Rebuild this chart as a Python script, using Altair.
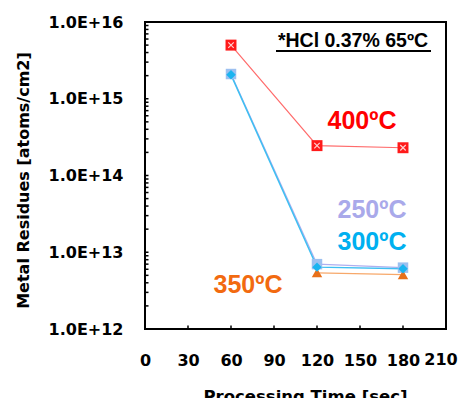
import altair as alt
import pandas as pd

times = [60, 120, 180]
res_400 = [5.0e15, 2.45e14, 2.3e14]
res_250 = [2.1e15, 7.0e12, 6.3e12]
res_300 = [2.05e15, 6.4e12, 6.1e12]
res_350_times = [120, 180]
res_350 = [5.4e12, 5.1e12]

x_ticks = [0, 30, 60, 90, 120, 150, 180, 210]
y_ticks = [1e12, 1e13, 1e14, 1e15, 1e16]
y_minor = [float(m) * 10.0 ** e for e in range(12, 16) for m in range(2, 10)] + y_ticks[1:-1]

FONT = "DejaVu Sans"

d400 = pd.DataFrame({"t": times, "v": res_400})
d250 = pd.DataFrame({"t": times, "v": res_250})
d300 = pd.DataFrame({"t": times, "v": res_300})
d350 = pd.DataFrame({"t": res_350_times, "v": res_350})
dyt = pd.DataFrame({"v": y_minor, "t": [0.0] * len(y_minor)})
dxt = pd.DataFrame({"t": [float(t) for t in x_ticks[1:-1]], "v": [1e12] * 6})
dlast = pd.DataFrame({"t": x_ticks[-1:]})

xscale = alt.Scale(domain=[0, 210], nice=False, zero=False)
yscale = alt.Scale(type="log", domain=[1e12, 1e16], nice=False)

xaxis = alt.Axis(values=x_ticks[:-1], ticks=False, domain=False, grid=False,
                 labelFont=FONT, labelFontWeight="bold", labelFontSize=16,
                 labelColor="black", labelPadding=23, labelFlush=False,
                 title="Processing Time [sec]", titleFont=FONT, titleFontWeight="bold",
                 titleFontSize=16.5, titleColor="black", titleBaseline="top",
                 titleY=59, titleX=160)
yaxis = alt.Axis(values=y_ticks, ticks=False, domain=False, grid=False,
                 labelExpr="format(datum.value / pow(10, floor(log(datum.value)/LN10 + 0.001)), '.1f') + 'E+' + floor(log(datum.value)/LN10 + 0.001)",
                 labelFont=FONT, labelFontWeight="bold", labelFontSize=16,
                 labelColor="black", labelPadding=22, labelFlush=False,
                 title="Metal Residues [atoms/cm2]", titleFont=FONT, titleFontWeight="bold",
                 titleFontSize=16, titleColor="black", titleAngle=-90,
                 titleBaseline="middle", titleAlign="center", titleX=-122, titleY=158)

X = alt.X("t:Q", scale=xscale, axis=xaxis)
Y = alt.Y("v:Q", scale=yscale, axis=yaxis)


def line(df, color, width=1.2):
    return alt.Chart(df).mark_line(color=color, strokeWidth=width).encode(x=X, y=Y)


def pts(df, shape, color, size, **kw):
    return alt.Chart(df).mark_point(shape=shape, filled=True, color=color, size=size,
                                    opacity=1, **kw).encode(x=X, y=Y)


xcross = "M-1,-1L1,1M1,-1L-1,1"

# inner ticks drawn as short horizontal / vertical paths through the scales
inner_y_ticks = alt.Chart(dyt).mark_point(
    shape="M0,0L1,0", filled=False, stroke="#000000", strokeWidth=1.5,
    size=49, opacity=1
).encode(x=X, y=Y)
inner_x_ticks = alt.Chart(dxt).mark_point(
    shape="M0,0L0,-1", filled=False, stroke="#000000", strokeWidth=1.5,
    size=49, opacity=1
).encode(x=X, y=Y)
last_label = alt.Chart(dlast).mark_text(
    font=FONT, fontWeight="bold", fontSize=16, color="black", align="center",
    baseline="top", dx=-5, dy=0
).encode(x=X, y=alt.value(330), text=alt.Text("t:Q"))

layers = [
    line(d400, "#FF6B6B"),
    line(d250, "#AFAFEF"),
    line(d350, "#F7A86A"),
    line(d300, "#3FBFF2", 1.5),
    pts(d400, "square", "#FF1A1A", 120),
    alt.Chart(d400).mark_point(shape=xcross, filled=False, stroke="#FFD0D0",
                               strokeWidth=1.2, size=30, opacity=1).encode(x=X, y=Y),
    pts(d250, "square", "#9CC0F0", 110),
    pts(d350, "triangle-up", "#E8701A", 110),
    pts(d300, "diamond", "#1AB4F0", 90),
    inner_y_ticks,
    inner_x_ticks,
    last_label,
]

def label(text, color, x, y, size=25):
    return alt.Chart(pd.DataFrame({"a": [0]})).mark_text(
        text=text, color=color, font="Liberation Sans", fontWeight="bold",
        fontSize=size, align="center", baseline="middle"
    ).encode(x=alt.value(x), y=alt.value(y))

labels = [
    label("400ºC", "#FF0000", 217, 99),
    label("250ºC", "#A9A9EA", 227, 188),
    label("300ºC", "#00B0F0", 227, 220),
    label("350ºC", "#F26A10", 103, 263),
    label("*HCl 0.37% 65ºC", "#000000", 208, 19, 19.5),
    alt.Chart(pd.DataFrame({"a": [0]})).mark_rule(color="black", strokeWidth=2).encode(
        x=alt.value(131), x2=alt.value(286), y=alt.value(29)),
]

chart = alt.layer(*layers, *labels).properties(
    width=301, height=307,
    autosize=alt.AutoSizeParams(type="none"),
    padding={"left": 137, "top": 14, "right": 12, "bottom": 69},
    background="white",
).configure_view(stroke="black", strokeWidth=2)

chart.save("out.html", embed_options={"renderer": "svg", "actions": False})
